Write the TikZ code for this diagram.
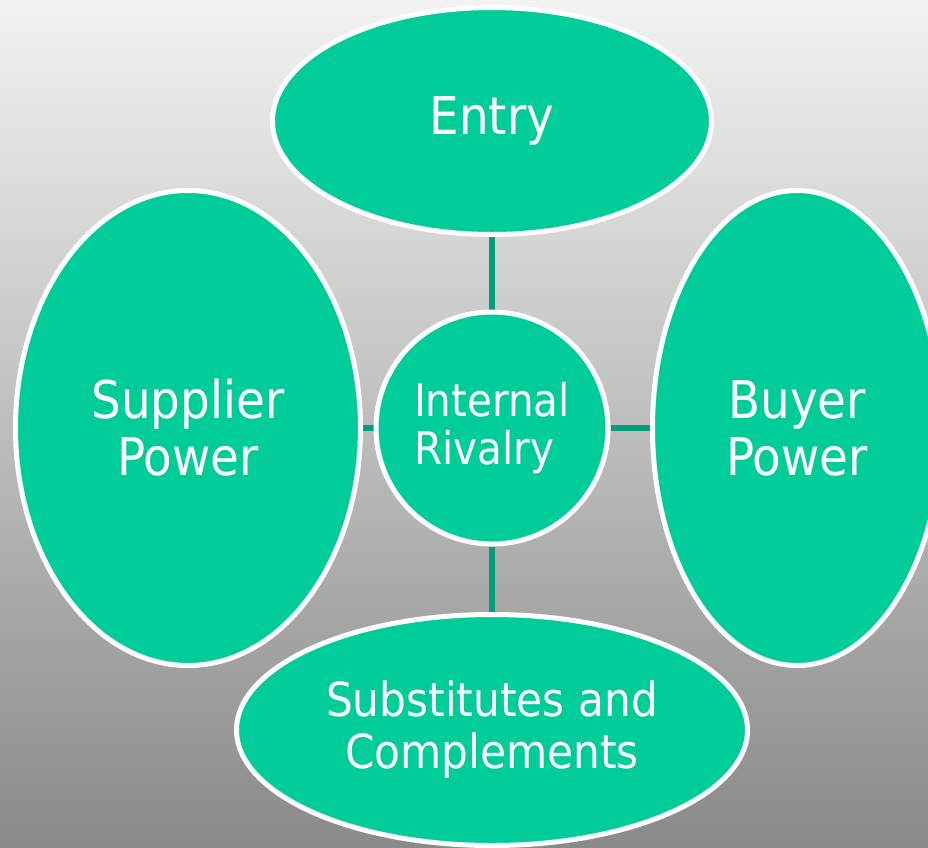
\documentclass[tikz,border=0pt]{standalone}
\usepackage{fontspec}
\setmainfont{DejaVu Sans Condensed}
\usepackage{tikz}
\usetikzlibrary{shapes.geometric, backgrounds}
\definecolor{forcegreen}{RGB}{0, 204, 153}
\definecolor{linkgreen}{RGB}{0, 160, 122}

\begin{document}
\begin{tikzpicture}[
    x=1pt, y=-1pt,
    every node/.style={text=white},
    force/.style={
        ellipse,
        draw=white,
        line width=5pt,
        fill=forcegreen,
        inner sep=0pt,
        align=center
    },
    bigtext/.style={font=\fontsize{52}{57}\selectfont},
    link/.style={
        line width=6pt,
        draw=linkgreen
    }
]

\useasboundingbox (0,0) rectangle (928,847);

% ==================== FIVE FORCES ====================
\node (entry) [force, bigtext, minimum width=439pt, minimum height=227pt] at (492,121) {Entry};
\node (supplier) [force, bigtext, minimum width=345pt, minimum height=475pt] at (188,428) {Supplier\\Power};
\node (buyer) [force, bigtext, minimum width=289pt, minimum height=475pt] at (797,428) {Buyer\\Power};
\node (rivalry) [force, circle, align=left, minimum size=232pt, font=\fontsize{45}{48}\selectfont] at (492,428) {Internal\\Rivalry};
\node (subst) [force, minimum width=511pt, minimum height=231pt, font=\fontsize{47}{52}\selectfont] at (492,730) {Substitutes and\\Complements};

% Background and links
\begin{scope}[on background layer]
    \shade [top color=black!5, bottom color=black!46] (0,0) rectangle (928,847);

    \draw [link] (entry) -- (rivalry);
    \draw [link] (rivalry) -- (subst);
    \draw [link] (supplier) -- (rivalry);
    \draw [link] (rivalry) -- (buyer);
\end{scope}

\end{tikzpicture}
\end{document}
